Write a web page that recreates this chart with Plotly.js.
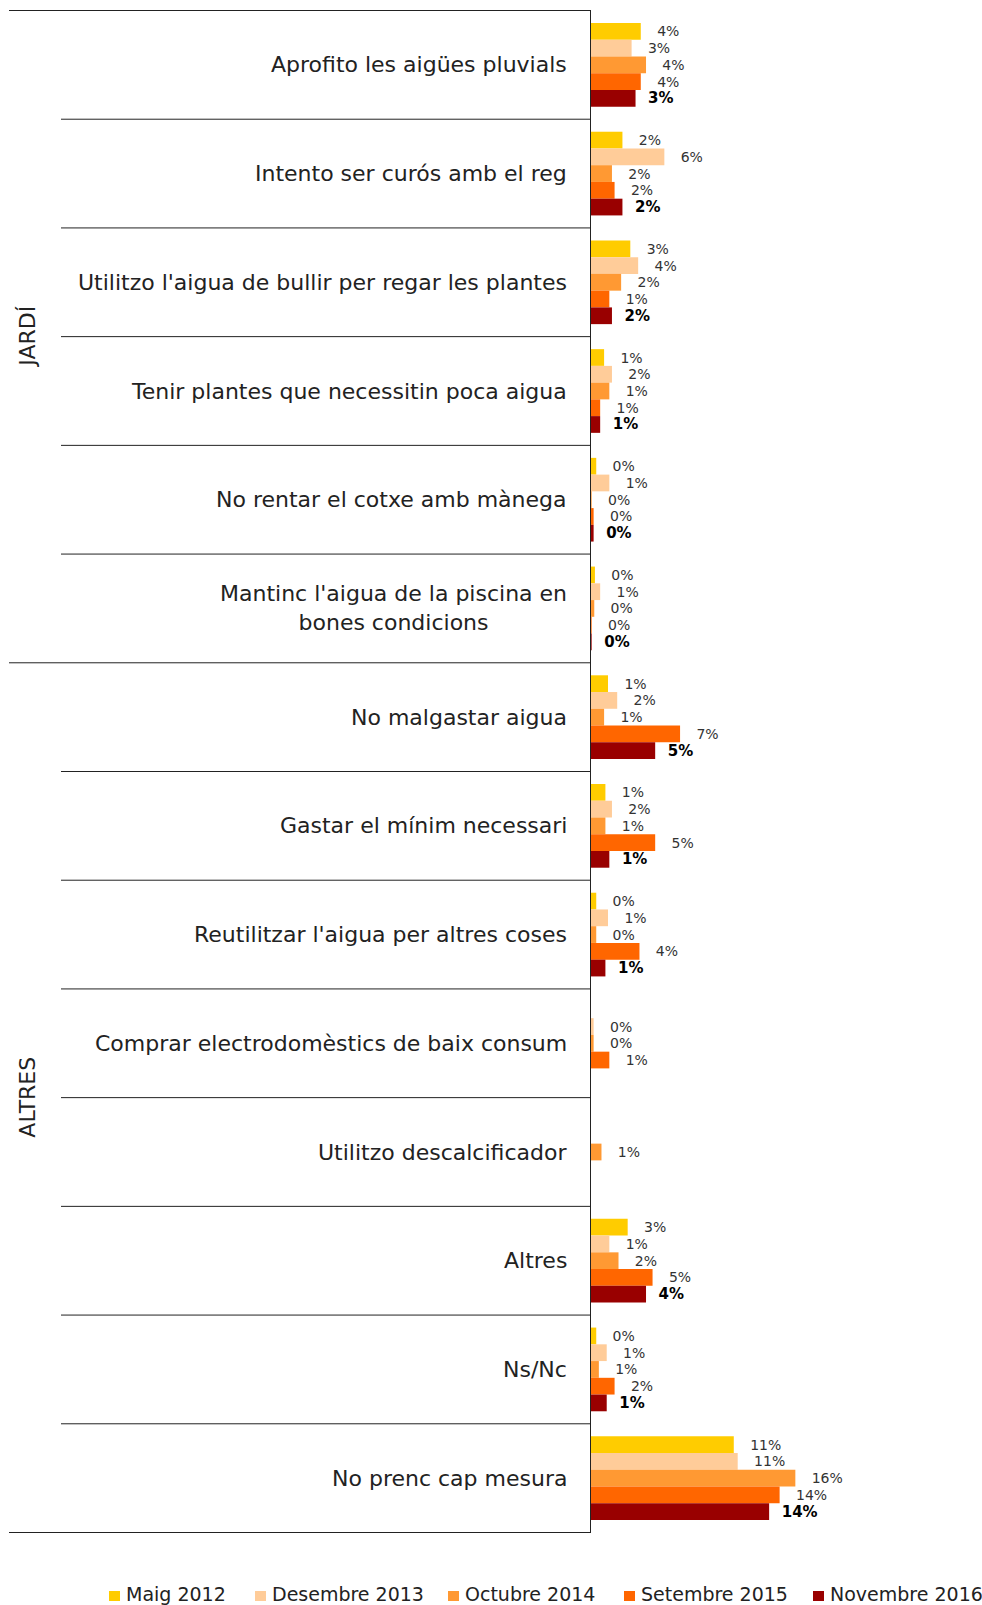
<!DOCTYPE html>
<html>
<head>
<meta charset="utf-8">
<script src="https://cdn.plot.ly/plotly-3.0.1.min.js"></script>
<style>html,body{margin:0;padding:0;background:#fff;}#chart{width:982px;height:1605px;}</style>
</head>
<body>
<div id="chart"></div>
<script>
const categories = [
  "Aprofito les aigües pluvials",
  "Intento ser curós amb el reg",
  "Utilitzo l'aigua de bullir per regar les plantes",
  "Tenir plantes que necessitin poca aigua",
  "No rentar el cotxe amb mànega",
  "Mantinc l'aigua de la piscina en<br>bones condicions",
  "No malgastar aigua",
  "Gastar el mínim necessari",
  "Reutilitzar l'aigua per altres coses",
  "Comprar electrodomèstics de baix consum",
  "Utilitzo descalcificador",
  "Altres",
  "Ns/Nc",
  "No prenc cap mesura"
];
const seriesNames = ["Maig 2012", "Desembre 2013", "Octubre 2014", "Setembre 2015", "Novembre 2016"];
const maig2012     = [3.8, 2.4, 3.0, 1.0, 0.4, 0.3, 1.3, 1.1, 0.4, null, null, 2.8, 0.4, 10.9];
const desembre2013 = [3.1, 5.6, 3.6, 1.6, 1.4, 0.7, 2.0, 1.6, 1.3, 0.2, null, 1.4, 1.2, 11.2];
const octubre2014  = [4.2, 1.6, 2.3, 1.4, 0.05, 0.25, 1.0, 1.1, 0.4, 0.2, 0.8, 2.1, 0.6, 15.6];
const setembre2015 = [3.8, 1.8, 1.4, 0.7, 0.2, 0.05, 6.8, 4.9, 3.7, 1.4, null, 4.7, 1.8, 14.4];
const novembre2016 = [3.4, 2.4, 1.6, 0.7, 0.2, 0.05, 4.9, 1.4, 1.1, null, null, 4.2, 1.2, 13.6];
const groupLabels = ["JARDÍ", "ALTRES"];
const groupSpans = [[0, 5], [6, 13]];

const colors = ["#FFCC00", "#FFCC99", "#FF9933", "#FF6600", "#990000"];
const values = [maig2012, desembre2013, octubre2014, setembre2015, novembre2016];
const FONT = "'DejaVu Sans', sans-serif";

// page geometry (pixels)
const W = 982, H = 1605, ML = 591, MT = 10, MB = 72;
const PW = W - ML, PH = H - MT - MB;
const px2x = p => (p - ML) / PW;
const px2y = p => 1 - (p - MT) / PH;

const traces = values.map((v, i) => ({
  type: "bar",
  orientation: "h",
  name: seriesNames[i],
  y: categories,
  x: v,
  marker: {color: colors[i]},
  texttemplate: i === 4 ? "\u00a0\u00a0<b>%{x:.0f}%</b>" : "\u00a0\u00a0\u00a0%{x:.0f}%",
  textposition: "outside",
  constraintext: "none",
  cliponaxis: false,
  textfont: {family: FONT, size: i === 4 ? 15 : 14, color: i === 4 ? "#000" : "#333"},
  hoverinfo: "x+name",
  showlegend: false
}));

const shapes = [];
for (let k = 0; k <= categories.length; k++) {
  const isGroupEdge = (k === 0 || k === 6 || k === categories.length);
  shapes.push({
    type: "line", xref: "paper", yref: "y",
    x0: isGroupEdge ? px2x(9) : px2x(61), x1: 0,
    y0: k - 0.5, y1: k - 0.5,
    line: {color: "#222", width: 1}
  });
}

const annotations = categories.map(c => ({
  xref: "paper", yref: "y", x: 0, y: c, xshift: -22,
  xanchor: "right", yanchor: "middle", align: "center",
  text: c, showarrow: false,
  font: {family: FONT, size: 22, color: "#222"}
}));
groupLabels.forEach((g, i) => {
  annotations.push({
    xref: "paper", yref: "y", x: px2x(28),
    y: (groupSpans[i][0] + groupSpans[i][1]) / 2,
    text: g, textangle: -90, showarrow: false,
    xanchor: "center", yanchor: "middle",
    font: {family: FONT, size: 22, color: "#222"}
  });
});

// legend drawn as small squares + text
const legendX = [109, 255, 448, 624, 813];
seriesNames.forEach((n, i) => {
  shapes.push({
    type: "rect", xref: "paper", yref: "paper",
    x0: px2x(legendX[i]), x1: px2x(legendX[i] + 11),
    y0: px2y(1601), y1: px2y(1591),
    fillcolor: colors[i], line: {width: 0}
  });
  annotations.push({
    xref: "paper", yref: "paper", x: px2x(legendX[i] + 15), y: px2y(1594),
    xanchor: "left", yanchor: "middle", showarrow: false,
    text: n, font: {family: FONT, size: 19, color: "#222"}
  });
});

const layout = {
  width: W, height: H,
  margin: {l: ML, r: 0, t: MT, b: MB, autoexpand: false},
  paper_bgcolor: "#fff", plot_bgcolor: "#fff",
  barmode: "group", bargap: 0.23, bargroupgap: 0,
  showlegend: false,
  xaxis: {range: [0, 29.85], showgrid: false, zeroline: false, showticklabels: false, ticks: "", showline: false, fixedrange: true},
  yaxis: {type: "category", autorange: "reversed", showticklabels: false, ticks: "", showgrid: false,
          zeroline: false, showline: true, linecolor: "#222", linewidth: 1, fixedrange: true},
  shapes: shapes,
  annotations: annotations,
  font: {family: FONT}
};

Plotly.newPlot("chart", traces, layout, {displayModeBar: false, staticPlot: true});
</script>
</body>
</html>
